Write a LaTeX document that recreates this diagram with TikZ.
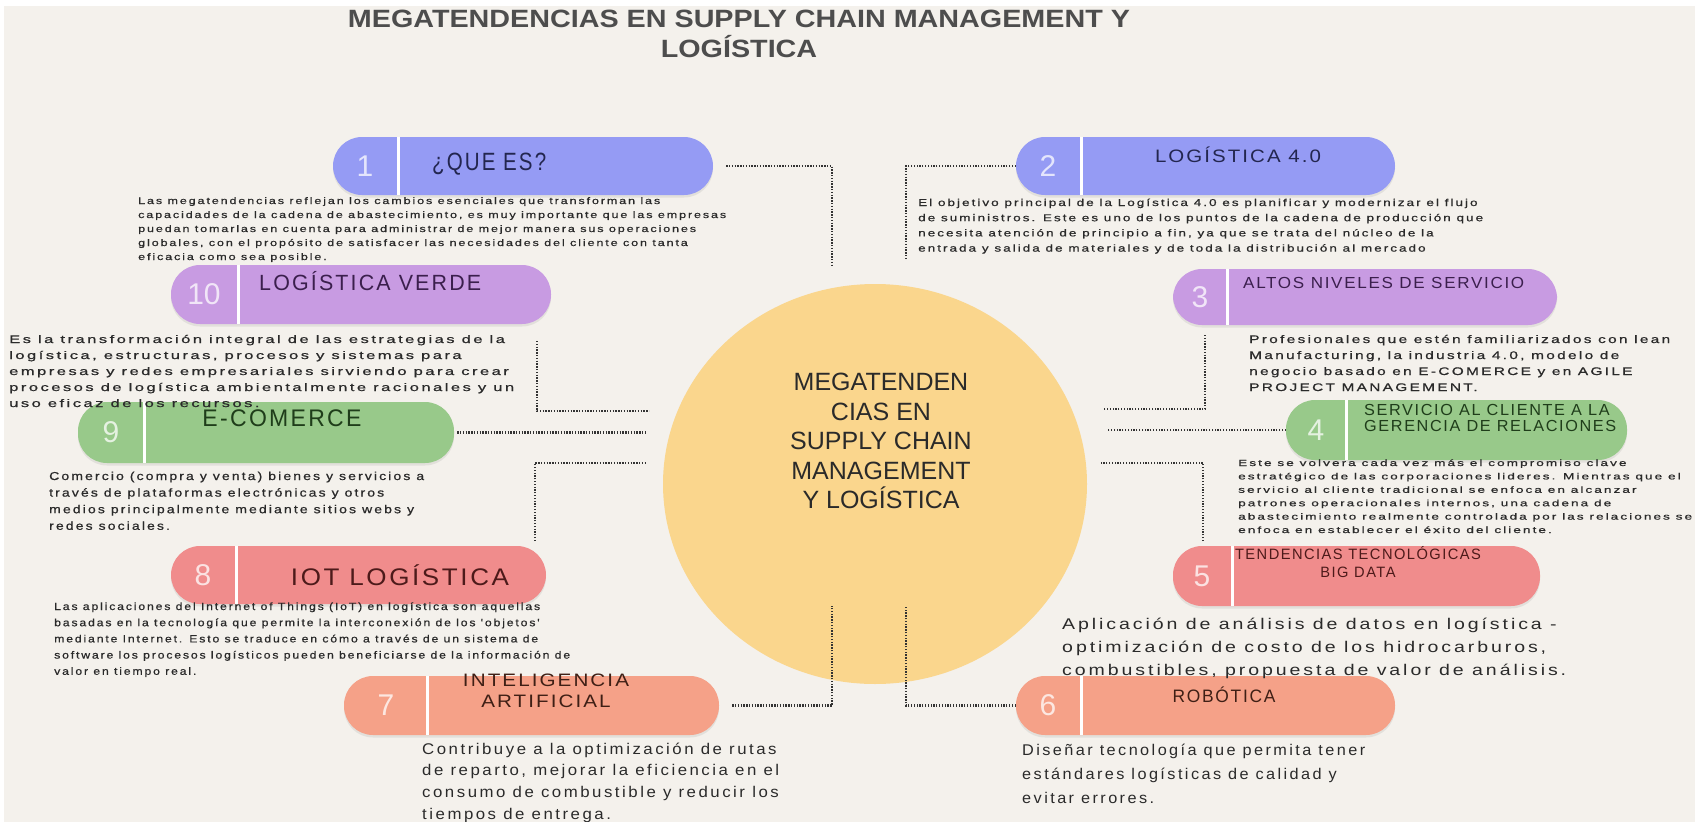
\documentclass[tikz,border=0pt]{standalone}
\usepackage{fontspec}
\usepackage{graphicx}
\usetikzlibrary{shapes.geometric,shadows}
\setmainfont{Liberation Sans}
\newfontfamily\descf[LetterSpace=15]{Liberation Sans}
\newfontfamily\descfb[LetterSpace=15,FakeBold=0.6]{Liberation Sans}
\newfontfamily\labf[LetterSpace=10]{Liberation Sans}
\definecolor{bgc}{HTML}{F4F1EC}
\definecolor{cBlue}{HTML}{959BF4}
\definecolor{cPurple}{HTML}{C89BE2}
\definecolor{cGreen}{HTML}{98C98A}
\definecolor{cRed}{HTML}{F08C8C}
\definecolor{cSalmon}{HTML}{F5A188}
\definecolor{cYellow}{HTML}{FAD68D}
\definecolor{dotc}{HTML}{333333}
\definecolor{txt}{HTML}{2A2A2A}
\definecolor{tBlue}{HTML}{23264F}
\definecolor{tPurple}{HTML}{3B1F4D}
\definecolor{tGreen}{HTML}{1F3D1A}
\definecolor{tRed}{HTML}{4D1A1A}
\definecolor{tSalmon}{HTML}{3F1F15}
\definecolor{titc}{HTML}{4D4D4D}
% width, size, skip, lines
\newcommand\dblock[4]{{\fontsize{#2}{#3}\selectfont\resizebox{#1}{\height}{\begin{tabular}[t]{@{}l@{}}#4\end{tabular}}}}
% width, size, skip, column, lines
\newcommand\lblock[5]{{\fontsize{#2}{#3}\selectfont\resizebox{#1}{\height}{\begin{tabular}{@{}#4@{}}#5\end{tabular}}}}
\tikzset{
  pill/.style={rectangle, rounded corners=29pt, inner sep=0, draw=none,
    drop shadow={opacity=0.15, shadow xshift=0pt, shadow yshift=-2.5pt}},
  divider/.style={draw=white, line width=3pt},
  num/.style={inner sep=0, font=\fontsize{30}{30}\selectfont, text=white, text opacity=0.75},
  lab/.style={inner sep=0, font=\labf},
  desc/.style={inner sep=0, text=txt, font=\descf, anchor=base west},
  descb/.style={desc, font=\descfb},
  conn/.style={draw=dotc, line width=2.8pt, dash pattern=on 1.3pt off 1.5pt},
}
\begin{document}
\begin{tikzpicture}[x=1pt,y=-1pt]
\useasboundingbox (0,0) rectangle (1695,822);
\fill[white] (0,0) rectangle (1695,822);
\fill[bgc] (4,6) rectangle (1695,822);

% title
\node[inner sep=0, text=titc, font=\bfseries] (title) at (739,37)
  {\lblock{782pt}{25}{28}{c}{MEGATENDENCIAS EN SUPPLY CHAIN MANAGEMENT Y\\LOGÍSTICA}};

% central hub
\node[ellipse, fill=cYellow, minimum width=424pt, minimum height=400pt, inner sep=0] (hub) at (875,484) {};
\node[inner sep=0, text=txt, align=center, font=\fontsize{25}{29.5}\selectfont] (hubtext) at (881,441)
  {MEGATENDEN\\CIAS EN\\SUPPLY CHAIN\\MANAGEMENT\\Y LOGÍSTICA};

% pills
\node[pill, fill=cBlue, minimum width=380pt, minimum height=58pt] (p1) at (523,166) {};
\node[pill, fill=cBlue, minimum width=379pt, minimum height=58pt] (p2) at (1205.5,166) {};
\node[pill, fill=cPurple, minimum width=380pt, minimum height=59pt] (p10) at (361,294.5) {};
\node[pill, fill=cPurple, minimum width=384pt, minimum height=56pt] (p3) at (1365,297) {};
\node[pill, fill=cGreen, minimum width=376pt, minimum height=61pt] (p9) at (266,432.5) {};
\node[pill, fill=cGreen, minimum width=341pt, minimum height=60pt] (p4) at (1456.5,430) {};
\node[pill, fill=cRed, minimum width=375pt, minimum height=58pt] (p8) at (358.5,575) {};
\node[pill, fill=cRed, minimum width=367pt, minimum height=60pt] (p5) at (1356.5,576) {};
\node[pill, fill=cSalmon, minimum width=375pt, minimum height=59pt] (p7) at (531.5,705.5) {};
\node[pill, fill=cSalmon, minimum width=379pt, minimum height=59pt] (p6) at (1205.5,705.5) {};

% dividers
\draw[divider] (398,137) -- (398,195);
\draw[divider] (1081,137) -- (1081,195);
\draw[divider] (238,265) -- (238,324);
\draw[divider] (1227,269) -- (1227,325);
\draw[divider] (144,402) -- (144,463);
\draw[divider] (1346,400) -- (1346,460);
\draw[divider] (236,546) -- (236,604);
\draw[divider] (1232,546) -- (1232,606);
\draw[divider] (427,676) -- (427,735);
\draw[divider] (1081,676) -- (1081,735);

% numbers
\node[num] (n1) at (365,166) {1};
\node[num] (n2) at (1048,166) {2};
\node[num] (n10) at (204,294.5) {10};
\node[num] (n3) at (1200,297) {3};
\node[num] (n9) at (111,432.5) {9};
\node[num] (n4) at (1316,430) {4};
\node[num] (n8) at (203,575) {8};
\node[num] (n5) at (1202,576) {5};
\node[num] (n7) at (386,705.5) {7};
\node[num] (n6) at (1048,705.5) {6};

% labels
\node[lab, text=tBlue, anchor=west] (l1) at (432,165) {\lblock{114pt}{25}{25}{l}{¿QUE ES?}};
\node[lab, text=tBlue] (l2) at (1238,157) {\lblock{166pt}{18}{18}{c}{LOGÍSTICA 4.0}};
\node[lab, text=tPurple, anchor=west] (l10) at (259,284) {\lblock{222pt}{22}{22}{l}{LOGÍSTICA VERDE}};
\node[lab, text=tPurple, anchor=west] (l3) at (1243,285) {\lblock{281pt}{16}{16}{l}{ALTOS NIVELES DE SERVICIO}};
\node[lab, text=tGreen] (l9) at (282,422) {\lblock{159pt}{24}{24}{c}{E-COMERCE}};
\node[lab, text=tGreen, anchor=west] (l4) at (1364,420) {\lblock{252pt}{16}{16.5}{l}{SERVICIO AL CLIENTE A LA\\GERENCIA DE RELACIONES}};
\node[lab, text=tRed] (l8) at (400,579) {\lblock{218pt}{24}{24}{c}{IOT LOGÍSTICA}};
\node[lab, text=tRed] (l5) at (1358,565) {\lblock{246pt}{15}{18}{c}{TENDENCIAS TECNOLÓGICAS\\BIG DATA}};
\node[lab, text=tSalmon] (l7) at (546,693) {\lblock{166pt}{18}{21}{c}{INTELIGENCIA\\ARTIFICIAL}};
\node[lab, text=tSalmon] (l6) at (1224,697) {\lblock{103pt}{18}{18}{c}{ROBÓTICA}};

% descriptions
\node[descb] (d1) at (138,204) {\dblock{588pt}{9.5}{14}{%
Las megatendencias reflejan los cambios esenciales que transforman las\\
capacidades de la cadena de abastecimiento, es muy importante que las empresas\\
puedan tomarlas en cuenta para administrar de mejor manera sus operaciones\\
globales, con el propósito de satisfacer las necesidades del cliente con tanta\\
eficacia como sea posible.}};
\node[descb] (d2) at (918,206) {\dblock{565pt}{10}{15.2}{%
El objetivo principal de la Logística 4.0 es planificar y modernizar el flujo\\
de suministros. Este es uno de los puntos de la cadena de producción que\\
necesita atención de principio a fin, ya que se trata del núcleo de la\\
entrada y salida de materiales y de toda la distribución al mercado}};
\node[descb] (d10) at (9,343) {\dblock{505pt}{11}{16}{%
Es la transformación integral de las estrategias de la\\
logística, estructuras, procesos y sistemas para\\
empresas y redes empresariales sirviendo para crear\\
procesos de logística ambientalmente racionales y un\\
uso eficaz de los recursos.}};
\node[descb] (d3) at (1249,343) {\dblock{421pt}{11}{16}{%
Profesionales que estén familiarizados con lean\\
Manufacturing, la industria 4.0, modelo de\\
negocio basado en E-COMERCE y en AGILE\\
PROJECT MANAGEMENT.}};
\node[descb] (d9) at (49,480) {\dblock{375pt}{11.5}{16.6}{%
Comercio (compra y venta) bienes y servicios a\\
través de plataformas electrónicas y otros\\
medios principalmente mediante sitios webs y\\
redes sociales.}};
\node[descb] (d4) at (1238,466) {\dblock{454pt}{9}{13.4}{%
Este se volvera cada vez más el compromiso clave\\
estratégico de las corporaciones lideres. Mientras que el\\
servicio al cliente tradicional se enfoca en alcanzar\\
patrones operacionales internos, una cadena de\\
abastecimiento realmente controlada por las relaciones se\\
enfoca en establecer el éxito del cliente.}};
\node[descb] (d8) at (54,610) {\dblock{516pt}{10.5}{16.2}{%
Las aplicaciones del Internet of Things (IoT) en logística son aquellas\\
basadas en la tecnología que permite la interconexión de los 'objetos'\\
mediante Internet. Esto se traduce en cómo a través de un sistema de\\
software los procesos logísticos pueden beneficiarse de la información de\\
valor en tiempo real.}};
\node[desc] (d5) at (1062,629) {\dblock{504pt}{15.5}{23}{%
Aplicación de análisis de datos en logística -\\
optimización de costo de los hidrocarburos,\\
combustibles, propuesta de valor de análisis.}};
\node[desc] (d7) at (422,754) {\dblock{357pt}{15.5}{21.8}{%
Contribuye a la optimización de rutas\\
de reparto, mejorar la eficiencia en el\\
consumo de combustible y reducir los\\
tiempos de entrega.}};
\node[desc] (d6) at (1022,755) {\dblock{343pt}{15.5}{24}{%
Diseñar tecnología que permita tener\\
estándares logísticas de calidad y\\
evitar errores.}};

% connector ends
\coordinate (c1) at (832,265);
\coordinate (c2) at (906,260);
\coordinate (c10a) at (537,341);
\coordinate (c10b) at (649,411);
\coordinate (c3a) at (1205,335);
\coordinate (c3b) at (1103,409);
\coordinate (c9) at (646,432.5);
\coordinate (c4) at (1108,430);
\coordinate (c8a) at (535,541);
\coordinate (c8b) at (646,463);
\coordinate (c5a) at (1203,541);
\coordinate (c5b) at (1100,463);
\coordinate (c7) at (832,606);
\coordinate (c6) at (906,606);

% connectors
\draw[conn] ([xshift=13pt]p1.east) -| (c1);
\draw[conn] (p2.west) -| (c2);
\draw[conn] (c10a) |- (c10b);
\draw[conn] (c3a) |- (c3b);
\draw[conn] ([xshift=3pt]p9.east) -- (c9);
\draw[conn] (p4.west) -- (c4);
\draw[conn] (c8a) |- (c8b);
\draw[conn] (c5a) |- (c5b);
\draw[conn] ([xshift=13pt]p7.east) -| (c7);
\draw[conn] (p6.west) -| (c6);
\end{tikzpicture}
\end{document}
